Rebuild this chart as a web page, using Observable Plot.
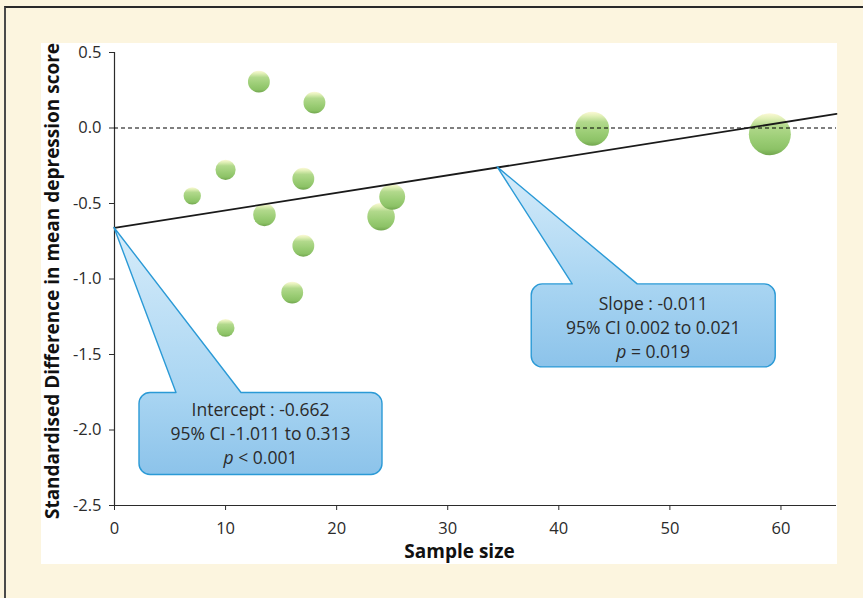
<!DOCTYPE html>
<html>
<head>
<meta charset="utf-8">
<script src="https://cdn.jsdelivr.net/npm/d3@7"></script>
<script src="https://cdn.jsdelivr.net/npm/@observablehq/plot@0.6"></script>
<style>
  html, body { margin: 0; padding: 0; background: #fcf5df; width: 863px; height: 598px; overflow: hidden; }
  #frame { position: absolute; left: 4px; top: 6px; width: 900px; height: 700px;
           border-left: 2px solid #4a4a4a; border-top: 2px solid #2a2a2a; }
  #panel { position: absolute; left: 41px; top: 43px; width: 796px; height: 521px; background: #fff; }
  #panel svg { display: block; overflow: visible; }
</style>
</head>
<body>
<div id="frame"></div>
<div id="panel"></div>
<script>
// ---- data ----
const sampleSize = [13, 18, 10, 7, 17, 13.5, 25, 24, 17, 16, 10, 43, 59];
const smd        = [0.307, 0.168, -0.277, -0.449, -0.336, -0.575, -0.456, -0.588, -0.78, -1.09, -1.324, -0.005, -0.041];
const studyWeight = [27, 27, 23, 17, 27, 29, 38, 43, 27, 27, 18, 66, 100];

const regX = [0, 65];
const regY = [-0.662, 0.093];

const xTicks = [0, 10, 20, 30, 40, 50, 60];
const yTicks = [0.5, 0.0, -0.5, -1.0, -1.5, -2.0, -2.5];

const xTitle = "Sample size";
const yTitle = "Standardised Difference in mean depression score";

const calloutX = [0, 34.5];
const calloutY = [-0.662, -0.261];
const calloutLine1 = ["Intercept : -0.662", "Slope : -0.011"];
const calloutLine2 = ["95% CI -1.011 to 0.313", "95% CI 0.002 to 0.021"];
const calloutP = ["< 0.001", "= 0.019"];

// ---- build ----
const points = sampleSize.map((x, i) => ({x, y: smd[i], w: studyWeight[i]}));
const reg = regX.map((x, i) => ({x, y: regY[i]}));

const FONT = "'Open Sans', 'DejaVu Sans', sans-serif";

const plot = Plot.plot({
  width: 796,
  height: 521,
  marginLeft: 73,
  marginRight: 1,
  marginTop: 9,
  marginBottom: 59,
  style: {fontFamily: FONT, fontSize: "16.5px", color: "#2b2b2b", background: "transparent", overflow: "visible"},
  x: {domain: [0, 65]},
  y: {domain: [-2.5, 0.5]},
  r: {domain: [0, 100], range: [0, 21]},
  marks: [
    Plot.axisY({ticks: yTicks, tickFormat: d => d.toFixed(1), tickSize: 5, tickPadding: 8, label: null}),
    Plot.axisX({ticks: xTicks, tickFormat: d => String(d), tickSize: 5, tickPadding: 12, label: null}),
    Plot.ruleX([0], {stroke: "#2b2b2b", strokeWidth: 1.2}),
    Plot.ruleY([-2.5], {stroke: "#2b2b2b", strokeWidth: 1.2}),
    Plot.dot(points, {x: "x", y: "y", r: "w", fill: "url(#ballGrad)", stroke: "none"}),
    Plot.ruleY([0], {stroke: "#000", strokeWidth: 1.1, strokeDasharray: "4,3"}),
    Plot.line(reg, {x: "x", y: "y", stroke: "#1a1a1a", strokeWidth: 1.8}),
    Plot.text([yTitle], {frameAnchor: "left", textAnchor: "middle", rotate: -90, dx: -62, dy: 2, fontWeight: "bold", fontSize: 19, fill: "#111"}),
    Plot.text([xTitle], {frameAnchor: "bottom", textAnchor: "middle", dy: 52, dx: -16, fontWeight: "bold", fontSize: 19, fill: "#111"})
  ]
});

document.getElementById("panel").appendChild(plot);

const svg = d3.select(plot);
const defs = svg.insert("defs", ":first-child");
const bg = defs.append("linearGradient").attr("id", "ballGrad")
  .attr("x1", 0).attr("y1", 0).attr("x2", 0).attr("y2", 1);
[["0%", "#fcf9d6"], ["12%", "#e2f0b8"], ["30%", "#b2d98c"], ["62%", "#9bcd75"], ["86%", "#8cc266"], ["100%", "#72a64f"]]
  .forEach(([o, c]) => bg.append("stop").attr("offset", o).attr("stop-color", c));

// ---- callouts, anchored to data through the plot's scales ----
const sx = plot.scale("x"), sy = plot.scale("y");
const boxGeom = [
  {dx0: 25, dx1: 268, dy0: 165, dy1: 247, b0: 62, b1: 127, tdy: 0},
  {dx0: 34, dx1: 278, dy0: 117, dy1: 200, b0: 75, b1: 140, tdy: 2}
];
const LINE = 24;
const g = svg.append("g");
calloutX.forEach((cx, i) => {
  const tx = sx.apply(cx), ty = sy.apply(calloutY[i]);
  const b = boxGeom[i];
  const x0 = tx + b.dx0, x1 = tx + b.dx1, y0 = ty + b.dy0, y1 = ty + b.dy1, r = 11;
  const path = `M${x0 + r},${y0} L${tx + b.b0},${y0} L${tx},${ty} L${tx + b.b1},${y0} L${x1 - r},${y0}
    A${r},${r} 0 0 1 ${x1},${y0 + r} L${x1},${y1 - r} A${r},${r} 0 0 1 ${x1 - r},${y1}
    L${x0 + r},${y1} A${r},${r} 0 0 1 ${x0},${y1 - r} L${x0},${y0 + r} A${r},${r} 0 0 1 ${x0 + r},${y0} Z`;
  const gid = "calloutGrad" + i;
  const lg = defs.append("linearGradient").attr("id", gid).attr("gradientUnits", "userSpaceOnUse")
    .attr("x1", 0).attr("x2", 0).attr("y1", ty).attr("y2", y1);
  const off = (y0 - ty) / (y1 - ty);
  lg.append("stop").attr("offset", 0).attr("stop-color", "#d6ecfa");
  lg.append("stop").attr("offset", off).attr("stop-color", "#a9d5f2");
  lg.append("stop").attr("offset", 1).attr("stop-color", "#8cc3ea");
  g.append("path").attr("d", path).attr("fill", `url(#${gid})`)
    .attr("stroke", "#2b9ad6").attr("stroke-width", 1.4).attr("stroke-linejoin", "round");
  const cxm = (x0 + x1) / 2, cym = (y0 + y1) / 2 + b.tdy;
  const t = g.append("g").attr("font-family", FONT).attr("font-size", 17.5).attr("fill", "#2b2b2b")
    .attr("text-anchor", "middle");
  t.append("text").attr("x", cxm).attr("y", cym - LINE).attr("dy", "0.35em").text(calloutLine1[i]);
  t.append("text").attr("x", cxm).attr("y", cym).attr("dy", "0.35em").text(calloutLine2[i]);
  const t3 = t.append("text").attr("x", cxm).attr("y", cym + LINE).attr("dy", "0.35em");
  t3.append("tspan").attr("font-style", "italic").text("p");
  t3.append("tspan").text(" " + calloutP[i]);
});
</script>
</body>
</html>
